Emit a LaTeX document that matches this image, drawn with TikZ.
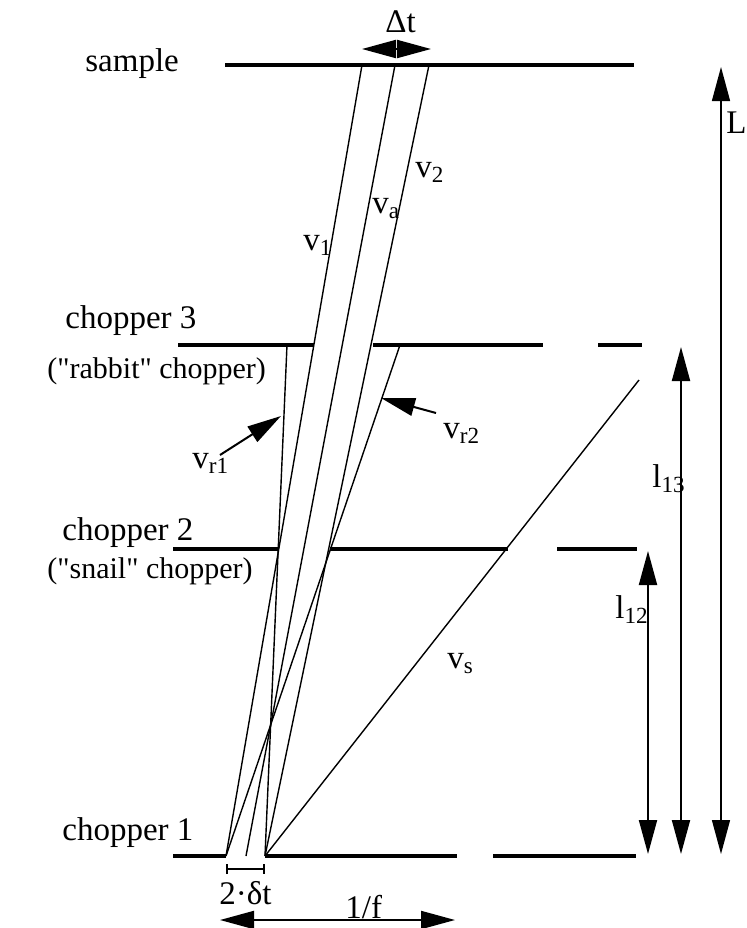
\documentclass[tikz,border=0pt]{standalone}
\usepackage{fontspec}
\setmainfont{Liberation Serif}[Ligatures=TeXOff]
\usetikzlibrary{arrows.meta}

\newcommand*{\ysample}{65}
\newcommand*{\ythree}{345}
\newcommand*{\ytwo}{549}
\newcommand*{\yone}{856}

\begin{document}
\begin{tikzpicture}
[
	x=0.5pt, y=-0.5pt,
	chopper/.style={line width=2pt},
	ray/.style={line width=0.7pt},
	dim/.style={line width=1pt},
	txt/.style={anchor=base west,inner sep=0pt,font=\fontsize{16.5}{19}\selectfont},
	subtxt/.style={txt,font=\fontsize{15}{18}\selectfont},
	>={Triangle[length=17pt,width=9pt]}
]
	\useasboundingbox (0,0) rectangle (746,928);

	% choppers and sample
	\draw[chopper] (225,\ysample) -- (634,\ysample);
	\foreach \a/\b in {178/314,373/543,598/642} {
		\draw[chopper] (\a,\ythree) -- (\b,\ythree);
	}
	\foreach \a/\b in {173/279,330/508,557/637} {
		\draw[chopper] (\a,\ytwo) -- (\b,\ytwo);
	}
	\foreach \a/\b in {173/226,265/457,493/636} {
		\draw[chopper] (\a,\yone) -- (\b,\yone);
	}

	% labels left
	\node[txt] (sample) at (85,71) {sample};
	\node[txt] (ch3) at (65,328) {chopper 3};
	\node[subtxt] (rabbit) at (47,378) {("rabbit" chopper)};
	\node[txt] (ch2) at (62,540) {chopper 2};
	\node[subtxt] (snail) at (47,578) {("snail" chopper)};
	\node[txt] (ch1) at (62,840) {chopper 1};

	% opening of chopper 1
	\coordinate (o1l) at (226,\yone);
	\coordinate (o1m) at (246,\yone);
	\coordinate (o1r) at (265,\yone);
	% ends of the rays
	\coordinate (s1) at (362,\ysample);
	\coordinate (sa) at (395,\ysample);
	\coordinate (s2) at (429,\ysample);
	\coordinate (r1) at (287,\ythree);
	\coordinate (r2) at (400,\ythree);
	\coordinate (se) at (639,380);

	% rays
	\draw[ray] (o1l) -- (s1);
	\draw[ray] (o1m) -- (sa);
	\draw[ray] (o1r) -- (s2);
	\draw[ray] (o1r) -- (r1);
	\draw[ray] (o1l) -- (r2);
	\draw[ray] (o1r) -- (se);

	% velocities
	\node[txt] (v1) at (303,250) {v\textsubscript{1}};
	\node[txt] (va) at (372,213) {v\textsubscript{a}};
	\node[txt] (v2) at (415,177) {v\textsubscript{2}};
	\node[txt] (vs) at (447,668) {v\textsubscript{s}};
	\node[txt] (vr1) at (192,468) {v\textsubscript{r1}};
	\node[txt] (vr2) at (443,438) {v\textsubscript{r2}};
	\coordinate (p1a) at (220,455);
	\coordinate (p1b) at (281,416);
	\coordinate (p2a) at (436,413);
	\coordinate (p2b) at (381,398);
	\draw[->,dim] (p1a) -- (p1b);
	\draw[->,dim] (p2a) -- (p2b);

	% time spreads
	\node[txt] (dt) at (385,32) {Δt};
	\coordinate (dtl) at (362,49);
	\coordinate (dtr) at (431,49);
	\draw[<->,dim] (dtl) -- (dtr);
	\coordinate (wl) at (226,869);
	\coordinate (wr) at (265,869);
	\draw[{Bar[width=5pt]}-{Bar[width=5pt]},line width=0.8pt] (wl) -- (wr);
	\node[txt] (width) at (219,904) {2·δt};
	\coordinate (fl) at (220,920);
	\coordinate (fr) at (455,920);
	\draw[<->,dim] (fl) -- (fr);
	\node[txt] (freq) at (345,918) {1/f};

	% distances
	\coordinate (l12t) at (648,551);
	\coordinate (l12b) at (648,854);
	\coordinate (l13t) at (681,347);
	\coordinate (l13b) at (681,854);
	\coordinate (Lt) at (721,67);
	\coordinate (Lb) at (721,854);
	\draw[<->,dim] (l12t) -- (l12b);
	\draw[<->,dim] (l13t) -- (l13b);
	\draw[<->,ray] (Lt) -- (Lb);
	\node[txt] (l12) at (615,618) {l\textsubscript{12}};
	\node[txt] (l13) at (652,487) {l\textsubscript{13}};
	\node[txt] (L) at (726,133) {L};

\end{tikzpicture}
\end{document}
